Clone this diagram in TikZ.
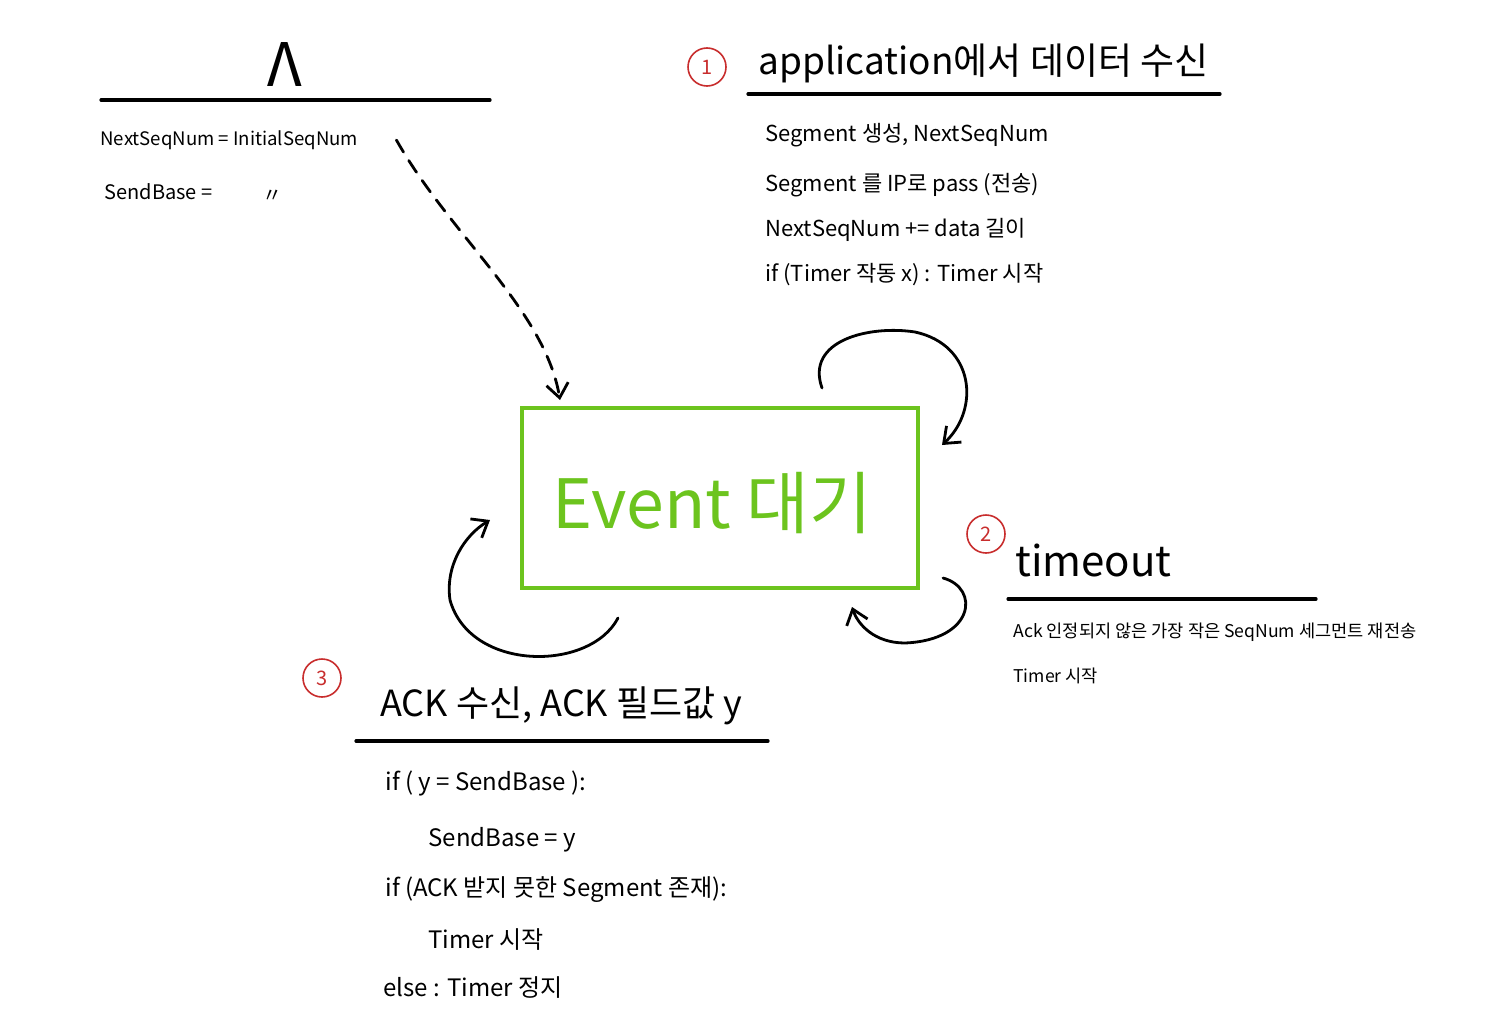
\documentclass[tikz,border=0pt]{standalone}
\usepackage{fontspec}
\setmainfont{Noto Sans CJK KR}
\usetikzlibrary{arrows.meta}
\definecolor{evgreen}{RGB}{108,196,30}
\definecolor{numred}{RGB}{200,45,45}
\tikzset{
  hd/.style={anchor=west,inner sep=0pt,font=\fontsize{18}{20}\selectfont},
  ln/.style={anchor=west,inner sep=0pt,font=\fontsize{11}{13}\selectfont},
  rule/.style={line width=1.6pt,line cap=round},
  numc/.style={circle,draw=numred,text=numred,line width=0.8pt,inner sep=1pt,minimum size=19pt,font=\fontsize{10}{10}\selectfont},
  loopar/.style={line width=1.4pt,line cap=round,-{Straight Barb[length=7pt,width=11pt,line width=1.4pt]}},
  dashar/.style={loopar,dash pattern=on 7pt off 5pt}
}
\begin{document}
\begin{tikzpicture}[x=0.5pt,y=-0.5pt]
  \useasboundingbox (0,0) rectangle (1504,1028);

  % initial state
  \node[font=\fontsize{30}{30}\selectfont] (lam) at (285,65) {Λ};
  \draw[rule] (101,100) -- (490,100);
  \node[ln,font=\fontsize{9.3}{11}\selectfont] (initnum) at (100,140) {NextSeqNum = InitialSeqNum};
  \node[ln,font=\fontsize{10}{12}\selectfont] (initbase) at (104,192) {SendBase =};
  \node[font=\fontsize{10}{12}\selectfont] (ditto) at (272,196) {〃};

  % waiting box
  \node[draw=evgreen,line width=2pt,minimum width=198pt,minimum height=90pt,
        text=evgreen,font=\fontsize{34}{36}\selectfont] (evt) at (720,498) {};
  \node[text=evgreen,font=\fontsize{34}{36}\selectfont] (evtxt) at (712,503) {Event 대기};

  % 1
  \node[numc] (n1) at (707,67) {1};
  \node[hd,font=\fontsize{18.5}{20}\selectfont] (apphd) at (758,63) {application에서 데이터 수신};
  \draw[rule] (748,94) -- (1220,94);
  \node[ln] (app1) at (765,135) {Segment 생성, NextSeqNum};
  \node[ln] (app2) at (765,185) {Segment 를 IP로 pass (전송)};
  \node[ln] (app3) at (765,230) {NextSeqNum += data 길이};
  \node[ln] (app4) at (765,275) {if (Timer 작동 x) : Timer 시작};

  % 2
  \node[numc] (n2) at (986,534) {2};
  \node[hd,font=\fontsize{21}{23}\selectfont] (tohd) at (1015,560) {timeout};
  \draw[rule] (1008,599) -- (1316,599);
  \node[ln,font=\fontsize{8.8}{10}\selectfont] (to1) at (1013,632) {Ack 인정되지 않은 가장 작은 SeqNum 세그먼트 재전송};
  \node[ln,font=\fontsize{8.8}{10}\selectfont] (to2) at (1013,676) {Timer 시작};

  % 3
  \node[numc] (n3) at (322,678) {3};
  \node[hd] (ackhd) at (380,706) {ACK 수신, ACK 필드값 y};
  \draw[rule] (356,741) -- (768,741);
  \node[ln,font=\fontsize{12}{14}\selectfont] (ack1) at (385,783) {if ( y = SendBase ):};
  \node[ln,font=\fontsize{12}{14}\selectfont] (ack2) at (428,840) {SendBase = y};
  \node[ln,font=\fontsize{12}{14}\selectfont] (ack3) at (385,890) {if (ACK 받지 못한 Segment 존재):};
  \node[ln,font=\fontsize{12}{14}\selectfont] (ack4) at (428,940) {Timer 시작};
  \node[ln,font=\fontsize{12}{14}\selectfont] (ack5) at (383,987) {else : Timer 정지};

  % loop ends
  \coordinate (l1a) at (822,388);
  \coordinate (l1b) at (942,445);
  \coordinate (l2a) at (943,578);
  \coordinate (l2b) at (852,607);
  \coordinate (l3a) at (618,618);
  \coordinate (l3b) at (490,520);

  \draw[dashar] ([xshift=19pt]initnum.east) .. controls (450,235) and (545,310) .. ([xshift=20pt,yshift=3pt]evt.north west);
  \draw[loopar] (l1a) .. controls (805,340) and (870,325) .. (915,332) .. controls (975,345) and (980,410) .. (l1b);
  \draw[loopar] (l2a) .. controls (980,588) and (975,640) .. (905,643) .. controls (875,643) and (858,625) .. (l2b);
  \draw[loopar] (l3a) .. controls (590,672) and (470,672) .. (450,600) .. controls (445,565) and (465,535) .. (l3b);
\end{tikzpicture}
\end{document}
